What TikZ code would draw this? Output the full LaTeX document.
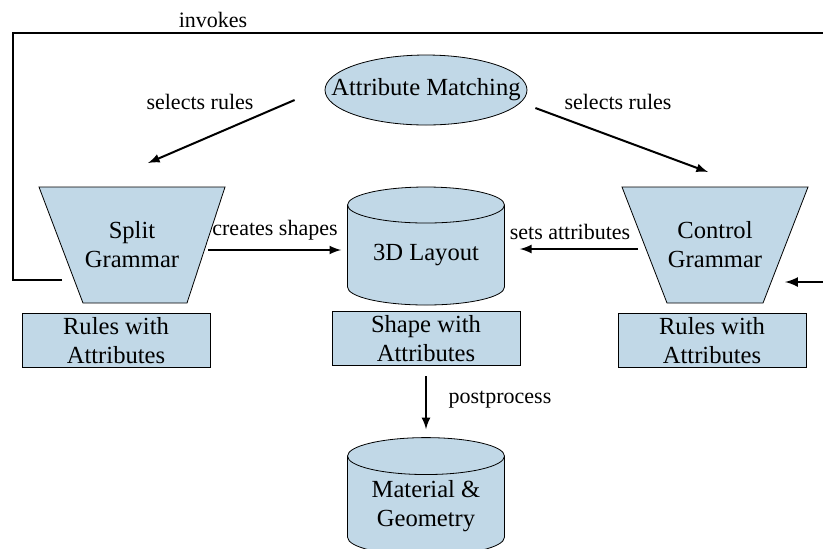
\documentclass[tikz,border=0pt]{standalone}
\usepackage{fontspec}
\setmainfont{Liberation Serif}
\usetikzlibrary{positioning}
\usetikzlibrary{arrows}
\usetikzlibrary{shapes}
\usetikzlibrary{backgrounds}

\definecolor{partblue}{RGB}{193,216,231}

\tikzset{
    match/.style={ellipse, draw, fill=partblue, minimum width=101pt, minimum height=35pt, inner sep=0pt, font=\fontsize{12.3}{14.5}\selectfont},
    grammar/.style={rectangle, minimum width=93pt, minimum height=58pt, inner sep=0pt, outer sep=0pt, align=center, font=\fontsize{12.3}{14.5}\selectfont},
    funnel/.style={draw, fill=partblue},
    store/.style={cylinder, shape border rotate=90, aspect=0.34, draw, fill=partblue, minimum width=78.5pt, minimum height=59pt, inner sep=0pt, align=center, font=\fontsize{12.3}{14.5}\selectfont},
    attrbox/.style={rectangle, draw, fill=partblue, minimum width=94pt, minimum height=27pt, inner sep=0pt, align=center, font=\fontsize{12.3}{14.5}\selectfont},
    lbl/.style={font=\fontsize{11}{13}\selectfont},
}

\begin{document}
\begin{tikzpicture}[x=0.5pt, y=-0.5pt, >=latex]
    \clip (0,0) rectangle (823,548);
    \node[match] (AM) at (426,90) {\makebox[70pt]{Attribute Matching}};
    \node[grammar] (SG) at (132,245) {Split\\Grammar};
    \node[grammar] (CG) at (715,245) {Control\\Grammar};
    \begin{scope}[on background layer]
        \draw[funnel] (SG.north west) -- (SG.north east) -- ([xshift=-19pt]SG.south east) -- ([xshift=22pt]SG.south west) -- cycle;
        \draw[funnel] (CG.north west) -- (CG.north east) -- ([xshift=-22.5pt]CG.south east) -- ([xshift=22.5pt]CG.south west) -- cycle;
    \end{scope}
    \node[store, anchor=shape center] (L3D) at (426,246) {3D Layout};
    \node[attrbox, below=5pt of SG, xshift=-8pt] (SR) {Rules with\\Attributes};
    \node[attrbox, below=3pt of L3D] (SA) {Shape with\\Attributes};
    \node[attrbox, below=5pt of CG, xshift=-1.5pt] (CR) {Rules with\\Attributes};
    \node[store, below=35.5pt of SA] (MG) {Material \&\\Geometry};
    \coordinate (invS) at (62,280);
    \coordinate (invE) at (785,282);
    \node[lbl] (inv) at (213,20) {invokes};
    \node[lbl] (selL) at (200,102) {selects rules};
    \node[lbl] (selR) at (618,102) {selects rules};
    \node[lbl] (crt) at (275,230) {creates shapes};
    \node[lbl] (sets) at (570,232) {sets attributes};
    \node[lbl] (post) at (500,400) {postprocess};
    \draw[->, line width=1pt] ([xshift=-15pt,yshift=-5pt]AM.west) -- ([xshift=8pt,yshift=12pt]SG.north);
    \draw[->, line width=1pt] ([xshift=4pt,yshift=-9pt]AM.east) -- ([xshift=-3.5pt,yshift=7.5pt]CG.north);
    \draw[->, line width=1pt, shorten >=3pt] ([xshift=-8.5pt,yshift=-2.5pt]SG.east) -- ([yshift=-2.5pt]SG.east -| L3D.west);
    \draw[->, line width=1pt, shorten >=7.5pt] ([xshift=8pt,yshift=-2pt]CG.west) -- ([yshift=-2pt]CG.west -| L3D.east);
    \draw[->, line width=1pt, shorten <=5pt, shorten >=4pt] (SA.south) -- (MG.north);
    \draw[->, line width=1.2pt] (invS) -- (13,280) -- (13,33) -- (830,33) -- (830,282) -- (invE);
\end{tikzpicture}
\end{document}
